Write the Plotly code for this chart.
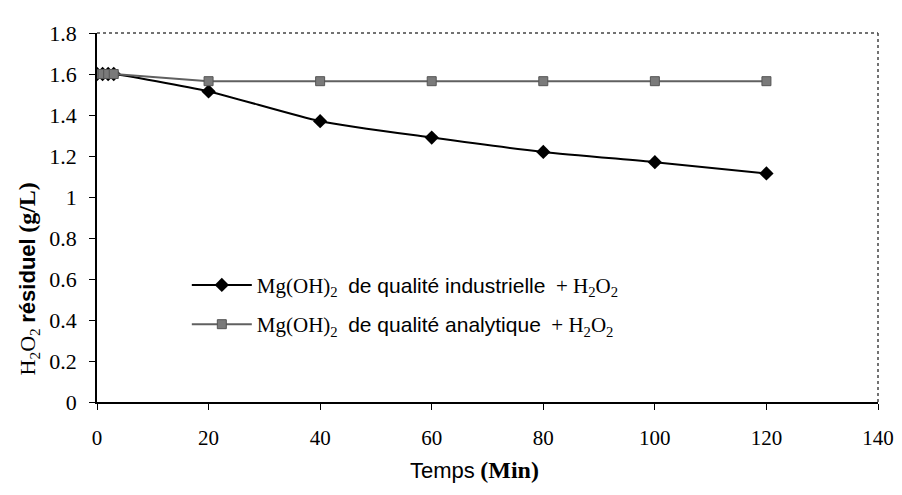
import plotly.graph_objects as go

# data
temps_ind = [0, 1, 2, 3, 20, 40, 60, 80, 100, 120]
h2o2_ind = [1.60, 1.60, 1.60, 1.60, 1.515, 1.37, 1.29, 1.22, 1.17, 1.115]
temps_ana = [0, 1, 2, 3, 20, 40, 60, 80, 100, 120]
h2o2_ana = [1.60, 1.60, 1.60, 1.60, 1.565, 1.565, 1.565, 1.565, 1.565, 1.565]

serif = "Times New Roman, Liberation Serif, serif"
sans = "Arial, Liberation Sans, sans-serif"

def sp(txt, fam, size=None):
    st = f"font-family:{fam}"
    if size:
        st += f";font-size:{size}px"
    return f"<span style='{st}'>{txt}</span>"

name_ind = (sp("Mg(OH)<sub>2</sub>", serif) + "  " + sp("de qualité industrielle", sans, 21)
            + "  " + sp("+ H<sub>2</sub>O<sub>2</sub>", serif))
name_ana = (sp("Mg(OH)<sub>2</sub>", serif) + "  " + sp("de qualité analytique", sans, 21)
            + "  " + sp("+ H<sub>2</sub>O<sub>2</sub>", serif))

fig = go.Figure()
fig.add_trace(go.Scatter(
    x=temps_ind, y=h2o2_ind, name=name_ind, mode="lines+markers", legendgroup="ind",
    line=dict(color="black", width=2, shape="spline", smoothing=0.6),
    marker=dict(symbol="diamond", size=11, color="black"),
))
fig.add_trace(go.Scatter(
    x=temps_ana, y=h2o2_ana, name=name_ana, mode="lines+markers", legendgroup="ana",
    line=dict(color="#606060", width=2),
    marker=dict(symbol="square", size=9, color="#7a7a7a", line=dict(color="#555555", width=1)),
))

# dotted top and right frame
fig.add_shape(type="line", xref="paper", yref="paper", x0=0, x1=1, y0=1, y1=1,
              line=dict(color="#444444", width=1.5, dash="dot"))
fig.add_shape(type="line", xref="paper", yref="paper", x0=1, x1=1, y0=0, y1=1,
              line=dict(color="#444444", width=1.5, dash="dot"))

# axis titles as annotations so they can sit where the original has them
fig.add_annotation(
    text=sp("Temps", sans) + " " + sp("<b>(Min)</b>", serif, 24),
    xref="paper", yref="paper", x=0.483, y=-0.185, xanchor="center", yanchor="middle",
    showarrow=False, font=dict(size=22, color="black"),
)
fig.add_annotation(
    text=sp("H<sub>2</sub>O<sub>2</sub>", serif) + " " + sp("<b>résiduel</b>", sans) + " "
    + sp("<b>(g/L)</b>", serif, 24),
    xref="paper", yref="paper", x=-0.088, y=0.333, xanchor="center", yanchor="middle",
    textangle=-90, showarrow=False, font=dict(size=22, color="black"),
)

# page body has an 8px margin; figure sits in 8..894 x 8..487
fig.update_layout(
    width=886, height=479,
    margin=dict(l=89, r=16, t=25, b=85, autoexpand=False),
    paper_bgcolor="white", plot_bgcolor="white",
    font=dict(family=serif, color="black", size=20),
    legend=dict(x=0.115, y=0.372, xanchor="left", yanchor="top", traceorder="grouped",
                bgcolor="rgba(0,0,0,0)", font=dict(family=serif, size=21, color="black"),
                tracegroupgap=9, itemwidth=60),
    showlegend=True,
)
fig.update_xaxes(
    range=[0, 140], dtick=20, tick0=0, showgrid=False, zeroline=False,
    showline=True, linecolor="black", linewidth=1.5, automargin=False,
    ticks="outside", ticklen=6, tickcolor="black", ticklabelstandoff=10,
    tickfont=dict(family=serif, size=21, color="black"),
)
fig.update_yaxes(
    range=[0, 1.8], dtick=0.2, tick0=0, showgrid=False, zeroline=False,
    showline=True, linecolor="black", linewidth=1.5, automargin=False,
    ticks="outside", ticklen=6, tickcolor="black", ticklabelstandoff=8,
    tickfont=dict(family=serif, size=22, color="black"),
)

fig.write_html("out.html")
